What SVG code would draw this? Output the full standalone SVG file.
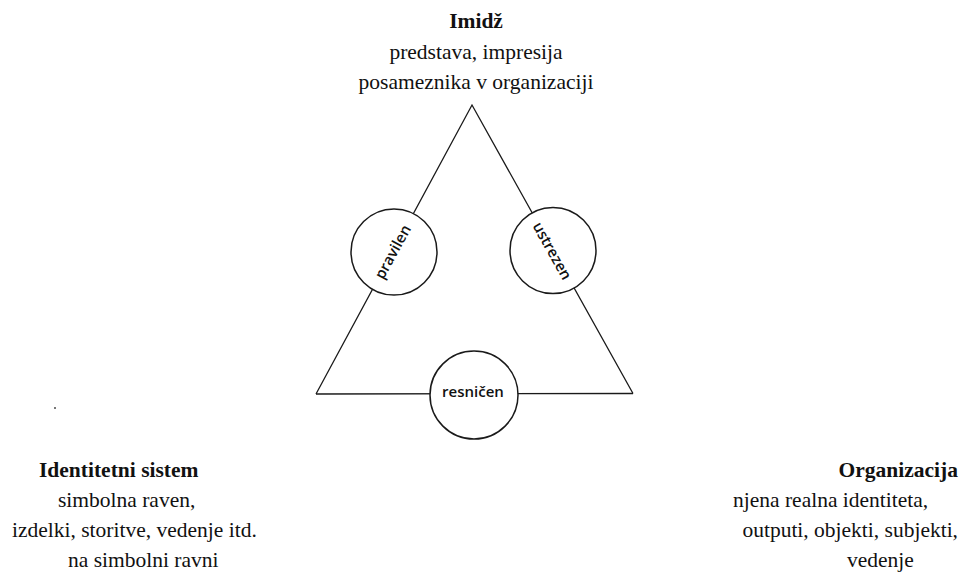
<svg xmlns="http://www.w3.org/2000/svg" width="968" height="574" viewBox="0 0 968 574">
<style>
.t{font-family:"Liberation Serif","Times New Roman",serif;font-size:21.5px;fill:#111}
.b{font-weight:bold}
.c{font-family:"Open Sans","DejaVu Sans",sans-serif;font-size:15px;font-weight:600;fill:#111}
.ln{stroke:#1a1a1a;stroke-width:1.3;fill:none}
.cir{stroke:#1a1a1a;stroke-width:1.5;fill:#fff}
</style>
<rect width="968" height="574" fill="#fff"/>
<g id="connectors">
<polyline class="ln" points="316,394 472,105 633,393.5"/>
<line class="ln" x1="316" y1="394" x2="633" y2="393.5"/>
</g>
<g id="imidz">
<text class="t b" x="476" y="28" text-anchor="middle">Imidž</text>
<text class="t" x="476" y="59" text-anchor="middle">predstava, impresija</text>
<text class="t" x="476" y="89" text-anchor="middle">posameznika v organizaciji</text>
</g>
<g id="identitetni-sistem">
<text class="t b" x="39" y="477">Identitetni sistem</text>
<text class="t" x="58" y="507">simbolna raven,</text>
<text class="t" x="12" y="537">izdelki, storitve, vedenje itd.</text>
<text class="t" x="68" y="567">na simbolni ravni</text>
</g>
<g id="organizacija">
<text class="t b" x="958" y="477" text-anchor="end">Organizacija</text>
<text class="t" x="733" y="507">njena realna identiteta,</text>
<text class="t" x="958" y="537" text-anchor="end">outputi, objekti, subjekti,</text>
<text class="t" x="847" y="567">vedenje</text>
</g>
<g id="pravilen">
<circle class="cir" cx="394" cy="252" r="43"/>
<text class="c" transform="translate(393 252) rotate(-61.6)" x="0" y="5" text-anchor="middle">pravilen</text>
</g>
<g id="ustrezen">
<circle class="cir" cx="553" cy="250.5" r="43"/>
<text class="c" transform="translate(552 251) rotate(60.8)" x="0" y="5" text-anchor="middle">ustrezen</text>
</g>
<g id="resnicen">
<circle class="cir" cx="474" cy="395" r="44"/>
<text class="c" x="473" y="397" text-anchor="middle">resničen</text>
</g>
<rect x="54" y="407" width="2" height="2" fill="#777"/>
</svg>
